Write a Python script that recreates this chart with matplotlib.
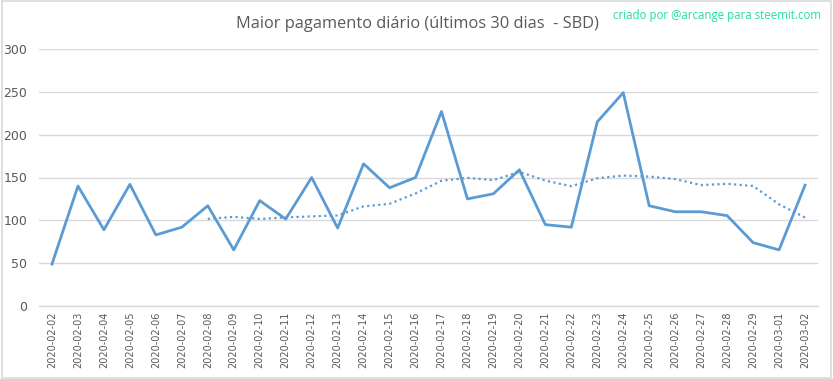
import matplotlib
matplotlib.use("Agg")
import matplotlib.pyplot as plt
import pandas as pd

# daily max payout (SBD)
dates = ["2020-02-02", "2020-02-03", "2020-02-04", "2020-02-05", "2020-02-06",
         "2020-02-07", "2020-02-08", "2020-02-09", "2020-02-10", "2020-02-11",
         "2020-02-12", "2020-02-13", "2020-02-14", "2020-02-15", "2020-02-16",
         "2020-02-17", "2020-02-18", "2020-02-19", "2020-02-20", "2020-02-21",
         "2020-02-22", "2020-02-23", "2020-02-24", "2020-02-25", "2020-02-26",
         "2020-02-27", "2020-02-28", "2020-02-29", "2020-03-01", "2020-03-02"]
payout = [49, 140, 89, 142, 83, 92, 117, 65.5, 123, 101.5,
          150, 91, 166, 138, 150, 227, 125, 131, 159, 95,
          92, 215, 249, 117, 110, 110, 105.5, 74, 65.5, 141]
yticks = [0, 50, 100, 150, 200, 250, 300]

blue = "#5b9bd5"
grid = "#d9d9d9"
text_gray = "#595959"

# 7-day moving average trendline (Excel style)
trend = pd.Series(payout).rolling(7).mean()

fig = plt.figure(figsize=(8.33, 3.79), dpi=100)
ax = fig.add_axes([39/833, 73/379, 779/833, 257/379])

x = list(range(len(dates)))
ax.plot(x, payout, color=blue, linewidth=2.0, zorder=3)
ax.plot(x, trend, color=blue, linewidth=1.6, linestyle=(0, (1, 1.5)), zorder=3)

ax.set_xlim(-0.5, len(dates) - 0.5)
ax.set_ylim(0, 300)
ax.set_yticks(yticks)
ax.set_xticks(x)
ax.set_xticklabels(dates, rotation=90, fontsize=7, color=text_gray)
ax.tick_params(axis="y", labelsize=9, labelcolor=text_gray, length=0, pad=8.5)
ax.tick_params(axis="x", length=0, pad=4)

ax.grid(axis="y", color=grid, linewidth=1.0)
ax.set_axisbelow(True)
for s in ["top", "right", "left"]:
    ax.spines[s].set_visible(False)
ax.spines["bottom"].set_color(grid)
ax.spines["bottom"].set_linewidth(1.0)

fig.text(417/833, 1 - 24/379, "Maior pagamento diário (últimos 30 dias  - SBD)",
         ha="center", va="center", fontsize=11.8, color=text_gray, family="Open Sans")
fig.text(821/833, 1 - 15/379, "criado por @arcange para steemit.com",
         ha="right", va="center", fontsize=8.3, color="#20dfa0", family="Open Sans")

# light chart border
fig.patches.append(plt.Rectangle((0.002, 0.003), 0.996, 0.994, transform=fig.transFigure,
                                 fill=False, edgecolor=grid, linewidth=1.2))

plt.savefig("out.png", dpi=100)
